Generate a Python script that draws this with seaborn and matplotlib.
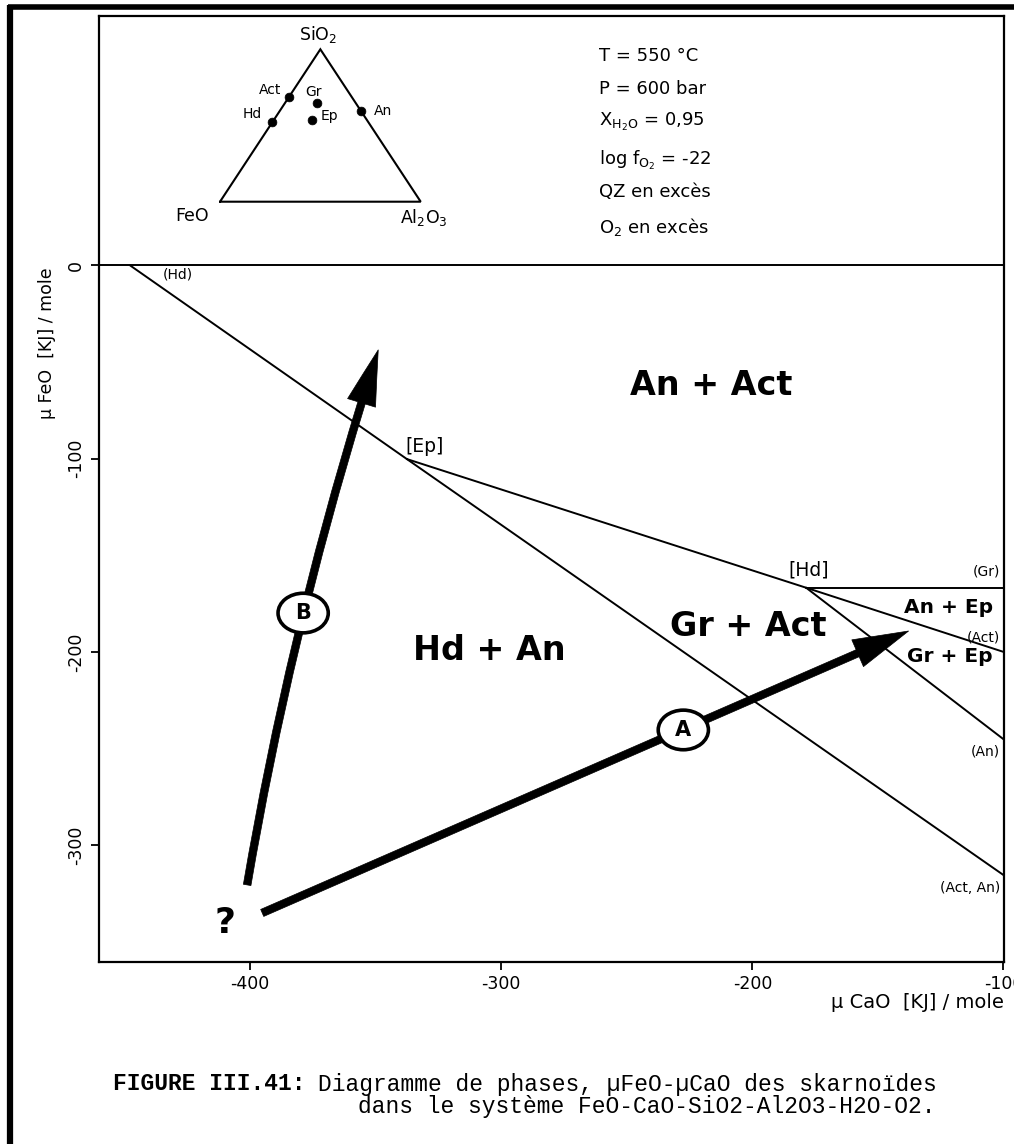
import numpy as np
import pandas as pd
import matplotlib
matplotlib.use("Agg")
import matplotlib.pyplot as plt
import seaborn as sns
from matplotlib.patches import FancyArrowPatch, Ellipse
from matplotlib.lines import Line2D

# ---------------- data (µCaO, µFeO in kJ/mole) ----------------
seg_names = ["(Hd)", "(Act, An)", "Ep-Hd", "(Gr)", "(Act)", "(An)"]
seg_x0 = [-447.8, -337.6, -337.6, -178.6, -178.6, -178.6]
seg_y0 = [0.0, -100.2, -100.2, -166.8, -166.8, -166.8]
seg_x1 = [-337.6, -100.0, -178.6, -100.0, -100.0, -100.0]
seg_y1 = [-100.2, -315.5, -166.8, -166.8, -200.0, -245.2]

field_names = ["An + Act", "Hd + An", "Gr + Act"]
field_x = [-216.3, -304.8, -201.8]
field_y = [-61.9, -199.5, -187.1]
small_field_names = ["An + Ep", "Gr + Ep"]
small_field_x = [-121.9, -121.5]
small_field_y = [-176.8, -202.6]

inv_names = ["[Ep]", "[Hd]"]
inv_x = [-330.7, -177.7]
inv_y = [-93.8, -157.6]

react_names = ["(Gr)", "(Act)", "(An)", "(Act, An)"]
react_y = [-158.5, -192.3, -251.7, -322.2]

arrow_names = ["A", "B"]
arrow_x0 = [-395.2, -401.2]
arrow_y0 = [-335.1, -320.6]
arrow_x1 = [-137.8, -349.0]
arrow_y1 = [-189.2, -43.7]
arrow_rad = [0.0, -0.036]
circle_x = [-227.5, -378.9]
circle_y = [-240.4, -179.9]

x_ticks = [-400, -300, -200, -100]
y_ticks = [0, -100, -200, -300]

# ternary inset: fractions (FeO, Al2O3, SiO2)
min_names = ["Act", "Hd", "Gr", "Ep", "An"]
min_feo = [0.31, 0.48, 0.19, 0.275, 0.0]
min_al = [0.0, 0.0, 0.16, 0.19, 0.405]
min_si = [0.69, 0.52, 0.65, 0.535, 0.595]

conditions = [r"T = 550 °C", r"P = 600 bar", r"X$_{\mathrm{H_2O}}$ = 0,95",
              r"log f$_{\mathrm{O_2}}$ = -22", r"QZ en excès", r"O$_2$ en excès"]

# ---------------- figure ----------------
W, H = 1014, 1144
sns.set_theme(style="white")
plt.rcParams["font.family"] = ["DejaVu Sans"]
plt.rcParams["mathtext.fontset"] = "dejavusans"
plt.rcParams["axes.unicode_minus"] = False
plt.rcParams["text.color"] = "black"
plt.rcParams["axes.labelcolor"] = "black"
plt.rcParams["xtick.color"] = "black"
plt.rcParams["ytick.color"] = "black"

fig = plt.figure(figsize=(W / 100, H / 100), dpi=100)
fig.patch.set_facecolor("white")

def fx(px):
    return px / W

def fy(py):
    return 1 - py / H

ax = fig.add_axes([fx(99), fy(962), fx(1004.5) - fx(99), fy(16) - fy(962)])
ax.set_facecolor("white")

seg_df = pd.DataFrame({
    "seg": np.repeat(seg_names, 2),
    "x": np.ravel(np.column_stack([seg_x0, seg_x1])),
    "y": np.ravel(np.column_stack([seg_y0, seg_y1])),
})
sns.lineplot(data=seg_df, x="x", y="y", units="seg", estimator=None, sort=False,
             color="black", lw=1.4, ax=ax, legend=False)
ax.axhline(0, color="black", lw=1.4)

ax.set_xlim(-460.2, -99.6)
ax.set_ylim(-360.5, 129.1)
ax.set_xticks(x_ticks)
ax.set_yticks(y_ticks)
ax.set_xlabel("")
ax.set_ylabel("")
ax.tick_params(axis="both", direction="out", length=6, width=1.3, color="black",
               labelsize=12.5, labelcolor="black", bottom=True, left=True)
ax.tick_params(axis="y", labelrotation=90, pad=4)
for lab in ax.get_yticklabels():
    lab.set_va("center")
for sp in ax.spines.values():
    sp.set_color("black")
    sp.set_linewidth(1.6)

# field labels
for n, x, y in zip(field_names, field_x, field_y):
    ax.text(x, y, n, fontsize=24, fontweight="bold", ha="center", va="center", zorder=6)
for n, x, y in zip(small_field_names, small_field_x, small_field_y):
    ax.text(x, y, n, fontsize=14.5, fontweight="bold", ha="center", va="center", zorder=6)
for n, x, y in zip(inv_names, inv_x, inv_y):
    ax.text(x, y, n, fontsize=13.5, ha="center", va="center")
for n, y in zip(react_names, react_y):
    ax.text(-101.3, y, n, fontsize=10, ha="right", va="center")
ax.text(-429, -4.9, "(Hd)", fontsize=10, ha="center", va="center")

# arrows
for i in range(len(arrow_names)):
    arr = FancyArrowPatch((arrow_x0[i], arrow_y0[i]), (arrow_x1[i], arrow_y1[i]),
                          connectionstyle=f"arc3,rad={arrow_rad[i]}",
                          arrowstyle="simple,head_length=4.0,head_width=2.1,tail_width=0.55",
                          mutation_scale=10, shrinkA=0, shrinkB=0,
                          facecolor="black", edgecolor="black", lw=0.5, zorder=4)
    ax.add_patch(arr)
    ax.add_patch(Ellipse((circle_x[i], circle_y[i]), 20, 20.5, facecolor="white",
                         edgecolor="black", lw=2.6, zorder=5))
    ax.text(circle_x[i], circle_y[i], arrow_names[i], fontsize=15, fontweight="bold",
            ha="center", va="center", zorder=6)
ax.text(-410, -340.3, "?", fontsize=26, fontweight="bold", ha="center", va="center")

# conditions text
cond_base = [60.7, 94, 126, 165, 196.7, 233]
for t, b in zip(conditions, cond_base):
    fig.text(fx(599), fy(b), t, fontsize=13, ha="left", va="baseline")

# ternary inset
iax = fig.add_axes([fx(220), fy(201.7), fx(420.7) - fx(220), fy(49.3) - fy(201.7)])
iax.set_xlim(0, 1)
iax.set_ylim(0, 1)
iax.axis("off")
iax.plot([0, 1, 0.5, 0], [0, 0, 1, 0], color="black", lw=1.5, clip_on=False,
         solid_joinstyle="miter")
tern = pd.DataFrame({"name": min_names,
                     "x": np.array(min_al) + 0.5 * np.array(min_si),
                     "y": np.array(min_si)})
sns.scatterplot(data=tern, x="x", y="y", color="black", s=40, edgecolor="black",
                ax=iax, legend=False, clip_on=False, zorder=5)
iax.set_xlabel("")
iax.set_ylabel("")
offs = {"Act": (-19, 7), "Gr": (-4, 11), "Hd": (-20, 8), "Ep": (18, 4), "An": (22, 0)}
for _, r in tern.iterrows():
    dx, dy = offs[r["name"]]
    iax.annotate(r["name"], (r["x"], r["y"]), xytext=(dx, dy), textcoords="offset pixels",
                 fontsize=10, ha="center", va="center")
iax.annotate(r"SiO$_2$", (0.5, 1), xytext=(-2, 15), textcoords="offset pixels",
             fontsize=12.5, ha="center", va="center")
iax.annotate("FeO", (0, 0), xytext=(-28, -14), textcoords="offset pixels",
             fontsize=12.5, ha="center", va="center")
iax.annotate(r"Al$_2$O$_3$", (1, 0), xytext=(3, -16), textcoords="offset pixels",
             fontsize=12.5, ha="center", va="center")

# axis labels
fig.text(fx(1004), fy(1003), "µ CaO  [KJ] / mole", fontsize=14, ha="right", va="center")
fig.text(fx(47), fy(343), "µ FeO  [KJ] / mole", fontsize=12.5, rotation=90,
         ha="center", va="center")

# caption
cap_fs = 16.5
fig.text(fx(113), fy(1084), "FIGURE III.41:", fontsize=cap_fs, fontweight="bold",
         family="Liberation Mono", ha="left", va="center")
fig.text(fx(318), fy(1084), "Diagramme de phases, µFeO-µCaO des skarnoïdes",
         fontsize=cap_fs, family="Liberation Mono", ha="left", va="center")
fig.text(fx(358), fy(1107), "dans le système FeO-CaO-SiO2-Al2O3-H2O-O2.",
         fontsize=cap_fs, family="Liberation Mono", ha="left", va="center")

# outer black border (left and top)
fig.add_artist(Line2D([fx(10), fx(10)], [fy(4.5), 0], color="black", lw=4.5,
                      transform=fig.transFigure, solid_capstyle="butt"))
fig.add_artist(Line2D([fx(7.5), 1], [fy(6.5), fy(6.5)], color="black", lw=4.0,
                      transform=fig.transFigure, solid_capstyle="butt"))

fig.savefig("out.png", dpi=100, facecolor="white")
